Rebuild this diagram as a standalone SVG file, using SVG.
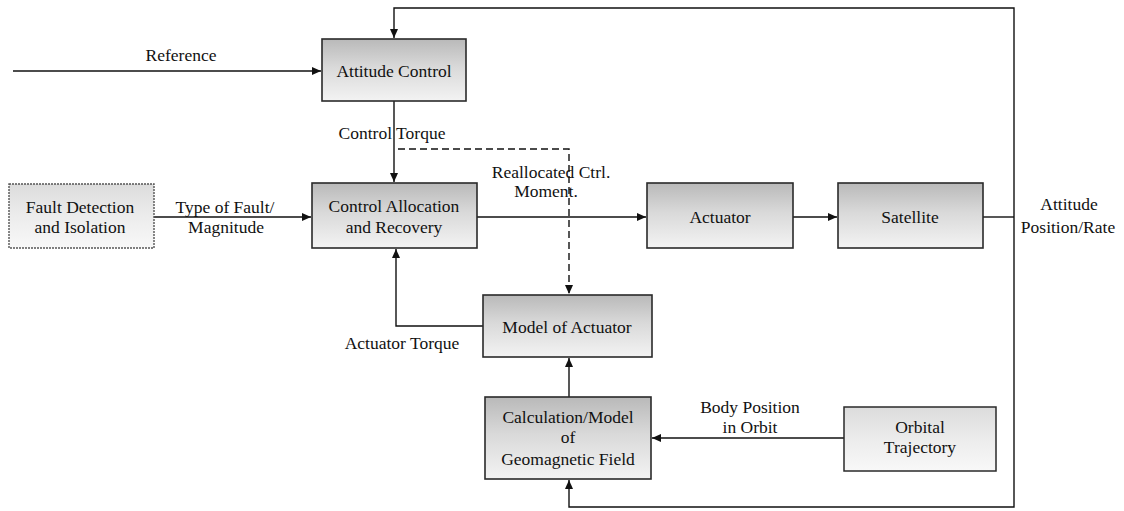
<svg xmlns="http://www.w3.org/2000/svg" width="1124" height="511" viewBox="0 0 1124 511" font-family="'Liberation Serif', 'Times New Roman', serif">
<defs>
<linearGradient id="g" x1="0" y1="0" x2="0" y2="1">
<stop offset="0" stop-color="#b9b9b9"/>
<stop offset="0.45" stop-color="#d9d9d9"/>
<stop offset="1" stop-color="#f3f3f3"/>
</linearGradient>
<linearGradient id="gl" x1="0" y1="0" x2="0" y2="1">
<stop offset="0" stop-color="#dcdcdc"/>
<stop offset="0.5" stop-color="#ececec"/>
<stop offset="1" stop-color="#f8f8f8"/>
</linearGradient>
<marker id="ah" markerWidth="10" markerHeight="10" refX="9" refY="5" orient="auto" markerUnits="userSpaceOnUse">
<path d="M0,1 L9,5 L0,9 Z" fill="#111"/>
</marker>
</defs>
<style>
text{font-family:'Liberation Serif','Times New Roman',serif;font-size:17.5px;fill:#111;text-anchor:middle}
.box{fill:url(#g);stroke:#2a2a2a;stroke-width:1.6}
.lbox{fill:url(#gl);stroke:#555;stroke-width:1.4;stroke-dasharray:2 1}
.obox{fill:url(#gl);stroke:#2a2a2a;stroke-width:1.5}
.c{fill:none;stroke:#111;stroke-width:1.4}
.a{marker-end:url(#ah)}
.d{stroke-dasharray:7 4}
</style>
<rect width="1124" height="511" fill="#fff"/>
<g id="connectors">
<path class="c a" d="M13,71 H321"/>
<path class="c" d="M983,217 H1014"/>
<path class="c a" d="M1014,217 V8 H394 V38"/>
<path class="c a" d="M1014,217 V507 H569 V480"/>
<path class="c a" d="M394,101 V182"/>
<path class="c a" d="M154,217 H311"/>
<path class="c a" d="M477,217 H646"/>
<path class="c a" d="M793,217 H837"/>
<path class="c d a" d="M398,149 H569 V294"/>
<path class="c a" d="M483,326 H396 V249"/>
<path class="c a" d="M569,397 V358"/>
<path class="c a" d="M844,438 H652"/>
<text x="181" y="61">Reference</text>
<text x="392" y="139">Control Torque</text>
<text x="225" y="213">Type of Fault/</text>
<text x="226" y="233">Magnitude</text>
<text x="551" y="178">Reallocated Ctrl.</text>
<text x="546" y="197">Moment.</text>
<text x="1069" y="210">Attitude</text>
<text x="1068" y="233">Position/Rate</text>
<text x="402" y="349">Actuator Torque</text>
<text x="750" y="413">Body Position</text>
<text x="750" y="433">in Orbit</text>
</g>
<g id="attitude-control">
<rect class="box" x="322" y="39" width="144" height="62"/>
<text x="394" y="77">Attitude Control</text>
</g>
<g id="fault-detection">
<rect class="lbox" x="9" y="184" width="145" height="64"/>
<text x="80" y="213">Fault Detection</text>
<text x="80" y="233">and Isolation</text>
</g>
<g id="control-allocation">
<rect class="box" x="312" y="183" width="165" height="65"/>
<text x="394" y="212">Control Allocation</text>
<text x="394" y="233">and Recovery</text>
</g>
<g id="actuator">
<rect class="box" x="647" y="183" width="146" height="65"/>
<text x="720" y="223">Actuator</text>
</g>
<g id="satellite">
<rect class="box" x="838" y="183" width="145" height="65"/>
<text x="910" y="223">Satellite</text>
</g>
<g id="model-actuator">
<rect class="box" x="483" y="295" width="169" height="62"/>
<text x="567" y="333">Model of Actuator</text>
</g>
<g id="geomagnetic">
<rect class="box" x="485" y="397" width="166" height="82"/>
<text x="568" y="423">Calculation/Model</text>
<text x="568" y="443">of</text>
<text x="568" y="465">Geomagnetic Field</text>
</g>
<g id="orbital">
<rect class="obox" x="844" y="407" width="152" height="64"/>
<text x="920" y="433">Orbital</text>
<text x="920" y="453">Trajectory</text>
</g>
</svg>
